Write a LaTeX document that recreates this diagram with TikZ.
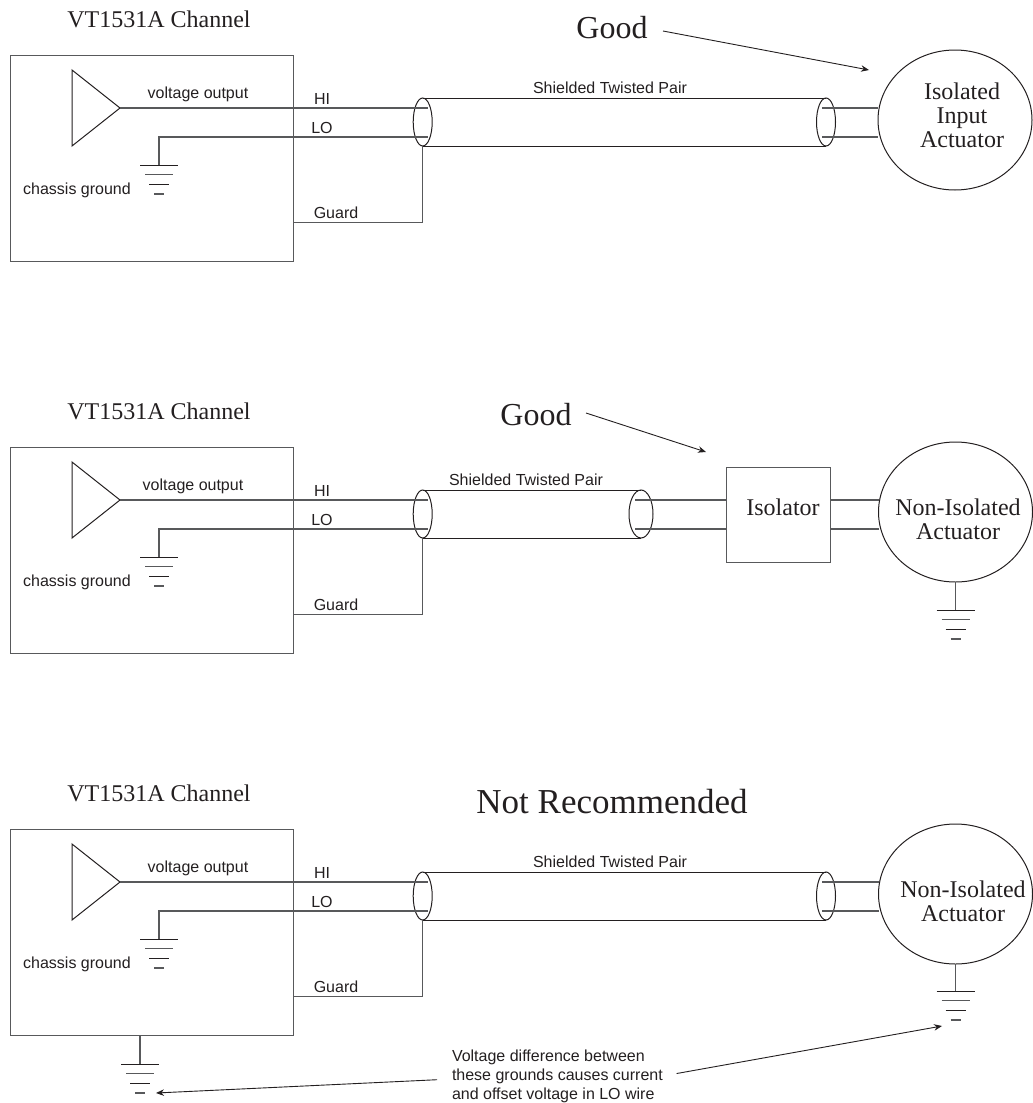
\documentclass[tikz,border=0pt]{standalone}
\usepackage{fontspec}
\setmainfont{Liberation Sans}
\newfontfamily\timesface{Liberation Serif}
\usetikzlibrary{arrows.meta, shapes.geometric}
\definecolor{ink}{HTML}{231F20}
\definecolor{wirecol}{HTML}{58595B}
\tikzset{
    every node/.style={inner sep=0pt, outer sep=0pt, text=ink},
    thinline/.style={draw=ink, line width=1pt},
    wire/.style={draw=wirecol, line width=1.4pt}, % The gray signal wires
    pointer/.style={draw=ink, line width=0.9pt, -{Stealth[length=8pt, width=6.5pt]}},
    label/.style={anchor=base, font=\fontsize{16}{19}\selectfont},
    serif/.style={anchor=base, align=center, font=\timesface\fontsize{24}{24}\selectfont},
    verdict/.style={anchor=base, font=\timesface\fontsize{32}{32}\selectfont},
    chassisbox/.style={draw=wirecol, line width=1pt, minimum width=283.5pt, minimum height=206pt},
    isobox/.style={draw=wirecol, line width=1pt, minimum width=104pt, minimum height=95pt},
    amp/.style={draw=ink, line width=1pt, isosceles triangle, isosceles triangle stretches,
        minimum width=76pt, minimum height=48pt, anchor=apex},
    shield/.style={draw=ink, line width=1pt, ellipse, minimum width=19pt, minimum height=48pt},
    actuator/.style={draw=ink, line width=1pt, ellipse, minimum width=154pt, minimum height=140pt},
    gnd/.pic={
        \coordinate (-top) at (0,0);
        \draw[thinline] (-19,0) -- (19,0);
        \draw[wire, line width=1.2pt] (-14,9.7) -- (14,9.7);
        \draw[thinline] (-10,19.3) -- (10,19.3);
        \draw[wire, line width=1.2pt] (-5,29) -- (5,29);
    },
}
% Everything left of the cable is the same in the three panels
\def\channel#1#2#3{
    \begin{scope}[shift={(0,#2)}]
        \node[serif]            (#1title) at (159,27)    {VT1531A Channel};
        \node[chassisbox]       (#1box)   at (151.75,158) {};
        \node[amp]              (#1amp)   at (120,108)   {};
        \node[shield]           (#1sl)    at (422.7,122) {};
        \pic (#1gnd) at (159,165) {gnd};
        \coordinate (#1hi) at (428,108);
        \coordinate (#1lo) at (428,137);
        \coordinate (#1guard) at (293.5,222.5);
        \draw[wire] (#1amp.apex) -- (#1hi);
        \draw[wire] (#1gnd-top) |- (#1lo);
        \draw[wire, line width=1.2pt] (#1sl.south) |- (#1guard);
        \node[label]            (#1volt)  at (#3,98)     {voltage output};
        \node[label]            (#1hil)   at (322,104)   {HI};
        \node[label]            (#1lol)   at (322,133)   {LO};
        \node[label]            (#1gl)    at (336,218)   {Guard};
        \node[label]            (#1cg)    at (77,194)    {chassis ground};
    \end{scope}
}

\begin{document}
\begin{tikzpicture}[x=1pt, y=-1pt]
    \useasboundingbox (0,0) rectangle (1033,1103);

    % top panel
    \channel{a}{0}{198}
    \node[shield]               (asr)    at (826,122)   {};
    \node[actuator]             (aact)   at (955,120)   {};
    \node[serif]                (atext)  at (962,147)   {Isolated\\Input\\Actuator};
    \node[label]                (atp)    at (610,93)    {Shielded Twisted Pair};
    \node[verdict]              (agood)  at (612,38)    {Good};
    \coordinate (atip) at (869,70);
    \coordinate (afrom) at (663,31);
    \draw[thinline] (asl.north) -- (asr.north) (asl.south) -- (asr.south);
    \draw[wire] (822,108) coordinate (ah) -- (ah -| aact.west);
    \draw[wire] (822,137) coordinate (al) -- (al -| aact.west);
    \draw[pointer] (afrom) -- (atip);

    % middle panel
    \channel{b}{392}{193}
    \node[shield, minimum width=24pt] (bsr) at (641,514) {};
    \node[isobox]               (biso)   at (778,514.5) {};
    \node[actuator]             (bact)   at (955.5,512) {};
    \node[serif]                (bisot)  at (783,515)   {Isolator};
    \node[serif]                (btext)  at (958,539)   {Non-Isolated\\Actuator};
    \node[label]                (btp)    at (526,485)   {Shielded Twisted Pair};
    \node[verdict]              (bgood)  at (536,425)   {Good};
    \pic (bgnd2) at (955.5,610) {gnd};
    \coordinate (btip) at (706,452);
    \coordinate (bfrom) at (586,413);
    \draw[thinline] (bsl.north) -- (bsr.north) (bsl.south) -- (bsr.south);
    \draw[wire] (635,500) coordinate (bh) -- (bh -| biso.west);
    \draw[wire] (635,529) coordinate (bl) -- (bl -| biso.west);
    \draw[wire] (biso.east |- bh) -- (bh -| bact.west);
    \draw[wire] (biso.east |- bl) -- (bl -| bact.west);
    \draw[wire, line width=1.2pt] (bact.south) -- (bgnd2-top);
    \draw[pointer] (bfrom) -- (btip);

    % bottom panel
    \channel{c}{774}{198}
    \node[shield]               (csr)    at (826,896)   {};
    \node[actuator]             (cact)   at (955.5,894) {};
    \node[serif]                (ctext)  at (963,921)   {Non-Isolated\\Actuator};
    \node[label]                (ctp)    at (610,867)   {Shielded Twisted Pair};
    \node[verdict, font=\timesface\fontsize{35}{35}\selectfont] (cbad) at (612,813) {Not Recommended};
    \node[label, align=left, anchor=west] (cnote) at (452,1076)
        {Voltage difference between\\these grounds causes current\\and offset voltage in LO wire};
    \pic (cgnd2) at (955.5,991) {gnd};
    \pic (cgnd3) at (140,1064) {gnd};
    \coordinate (ctipa) at (942,1026);
    \coordinate (ctipb) at (156,1093);
    \draw[thinline] (csl.north) -- (csr.north) (csl.south) -- (csr.south);
    \draw[wire] (822,882) coordinate (ch) -- (ch -| cact.west);
    \draw[wire] (822,911) coordinate (cl) -- (cl -| cact.west);
    \draw[wire, line width=1.2pt] (cact.south) -- (cgnd2-top);
    \draw[wire, line width=1.2pt] (cgnd3-top |- cbox.south) -- (cgnd3-top);
    \draw[pointer, shorten <=14pt] (cnote.east) -- (ctipa);
    \draw[pointer, shorten <=15pt] ([yshift=-3pt]cnote.west) -- (ctipb);
\end{tikzpicture}
\end{document}
